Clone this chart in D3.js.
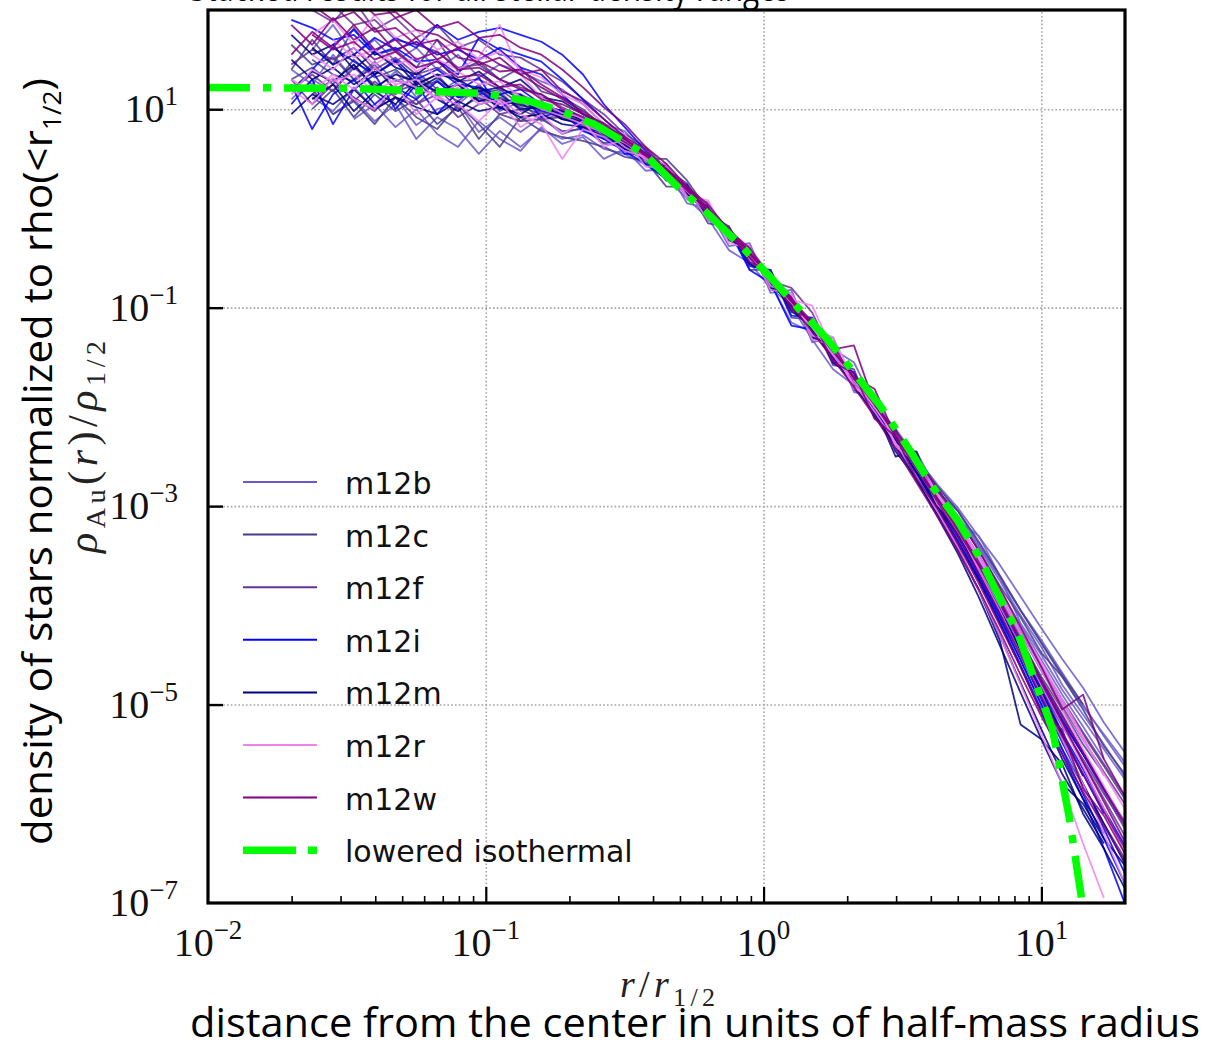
<!DOCTYPE html>
<html>
<head>
<meta charset="utf-8">
<script src="https://cdn.jsdelivr.net/npm/d3@7"></script>
<style>
  body { margin: 0; background: #fff; }
</style>
</head>
<body>
<div id="chart"></div>
<script>
// radial grid, log10(r / r_1/2)
const logR = [-1.700,-1.625,-1.550,-1.475,-1.400,-1.325,-1.250,-1.175,-1.100,-1.025,-0.950,-0.875,-0.800,-0.725,-0.650,-0.575,-0.500,-0.425,-0.350,-0.275,-0.200,-0.125,-0.050,0.025,0.100,0.175,0.250,0.325,0.400,0.475,0.550,0.625,0.700,0.775,0.850,0.925,1.000,1.075,1.150,1.225,1.300];

// log10(rho / rho_1/2), several profiles per halo
const m12b = [
  [null,1.12,0.98,1.22,1.00,1.12,0.84,1.00,1.06,0.77,0.92,0.77,0.92,0.75,0.82,0.65,0.63,0.52,0.30,0.21,-0.08,-0.22,-0.50,-0.67,-0.99,-1.15,-1.45,-1.66,-1.96,-2.22,-2.51,-2.78,-3.02,-3.31,-3.59,-3.91,-4.23,-4.54,-4.83,-5.18,-5.48],
  [1.10,1.30,1.18,1.45,1.20,1.38,1.12,1.30,1.05,1.22,0.98,1.08,0.88,0.97,0.80,0.74,0.60,0.54,0.33,0.18,-0.01,-0.28,-0.45,-0.75,-1.15,-1.25,-1.42,-1.55,-1.97,-2.27,-2.55,-2.83,-3.10,-3.42,-3.75,-4.10,-4.42,-4.80,-5.10,-5.40,-5.72],
  [null,null,0.95,1.10,0.88,1.05,0.70,0.92,0.80,0.55,0.78,0.62,0.80,0.70,0.74,0.60,0.55,0.44,0.30,0.10,-0.10,-0.42,-0.55,-0.80,-0.98,-1.32,-1.62,-1.78,-2.05,-2.35,-2.62,-2.90,-3.18,-3.50,-3.85,-4.20,-4.55,-4.90,-5.22,-5.55,null],
  [1.40,1.25,1.55,1.30,1.48,1.28,1.36,1.15,1.30,1.10,1.18,0.98,1.05,0.90,0.85,0.80,0.62,0.48,0.40,0.15,-0.02,-0.20,-0.50,-0.68,-1.02,-1.18,-1.50,-1.70,-2.05,-2.30,-2.60,-2.88,-3.15,-3.30,-3.70,-4.18,-4.50,-4.85,-5.15,-5.45,-5.75],
  [null,1.60,1.85,1.55,1.70,1.48,1.62,1.40,1.55,1.32,1.45,1.38,1.28,1.20,1.05,0.85,0.78,0.55,0.42,0.12,0.05,-0.32,-0.40,-0.80,-0.88,-1.30,-1.38,-1.82,-1.95,-2.40,-2.50,-2.80,-3.05,-3.38,-3.70,-4.05,-4.35,-4.68,-5.00,-5.32,-5.62],
  [null,null,null,0.90,1.05,0.82,1.00,0.75,0.62,0.88,0.70,0.58,0.82,0.65,0.72,0.50,0.60,0.38,0.40,0.05,0.00,-0.38,-0.35,-0.85,-0.82,-1.35,-1.30,-1.85,-1.90,-2.38,-2.45,-2.85,-3.05,-3.40,-3.72,-4.05,-4.38,-4.72,-5.02,-5.30,-5.58]
];
const m12c = [
  [1.65,1.45,1.52,1.30,1.42,1.20,1.33,1.15,1.25,1.08,1.12,1.02,0.95,0.98,0.82,0.78,0.64,0.50,0.36,0.20,-0.04,-0.24,-0.50,-0.70,-0.98,-1.20,-1.46,-1.76,-2.00,-2.34,-2.62,-2.90,-3.18,-3.52,-3.88,-4.25,-4.62,-4.98,-5.30,-5.62,-5.95],
  [null,1.00,1.20,0.92,1.15,0.98,1.10,0.85,1.02,0.70,0.95,0.88,0.90,0.78,0.80,0.66,0.68,0.45,0.38,0.12,0.02,-0.30,-0.42,-0.78,-0.90,-1.26,-1.40,-1.80,-1.95,-2.30,-2.58,-2.85,-3.12,-3.45,-3.80,-4.12,-4.48,-4.72,-5.05,-5.42,-5.70],
  [1.30,1.42,1.25,1.50,1.32,1.40,1.22,1.28,1.18,1.20,1.05,1.10,1.00,0.92,0.90,0.75,0.66,0.54,0.35,0.18,-0.05,-0.26,-0.47,-0.73,-0.97,-1.22,-1.48,-1.76,-2.06,-2.36,-2.68,-3.00,-3.32,-3.70,-4.12,-4.55,-5.00,-5.45,-5.82,-6.20,-6.55],
  [null,1.50,1.35,1.28,1.45,1.18,1.25,1.35,1.12,1.15,1.20,1.05,1.08,0.96,0.88,0.80,0.68,0.50,0.50,0.28,-0.02,-0.22,-0.49,-0.70,-0.95,-1.19,-1.45,-1.72,-1.98,-2.25,-2.52,-2.80,-3.05,-3.36,-3.70,-4.05,-4.38,-4.70,-5.00,null,null],
  [1.40,1.70,1.45,1.82,1.55,1.60,1.42,1.70,1.38,1.48,1.30,1.42,1.18,1.12,1.00,0.82,0.74,0.48,0.45,0.10,0.06,-0.32,-0.38,-0.82,-0.85,-1.30,-1.36,-1.80,-1.92,-2.36,-2.56,-2.92,-3.20,-3.55,-3.95,-4.32,-4.75,-5.10,-5.48,-5.85,-6.20],
  [null,1.20,0.95,1.08,0.85,1.12,0.92,0.80,1.05,0.85,0.62,0.92,0.78,0.72,0.68,0.62,0.52,0.48,0.22,0.22,-0.15,-0.18,-0.62,-0.62,-1.10,-1.12,-1.58,-1.62,-2.12,-2.22,-2.70,-2.90,-3.30,-3.62,-4.00,-4.35,-4.72,-5.05,-5.40,-5.70,null]
];
const m12f = [
  [null,null,2.05,1.85,1.90,1.70,1.65,1.58,1.42,1.45,1.30,1.22,1.15,1.02,0.92,0.80,0.68,0.52,0.37,0.18,-0.03,-0.25,-0.47,-0.72,-0.96,-1.20,-1.48,-1.75,-2.03,-2.33,-2.65,-2.98,-3.30,-3.66,-4.04,-4.45,-4.85,-5.22,-5.55,-5.90,-6.22],
  [1.20,1.35,1.18,1.42,1.25,1.15,1.38,1.20,1.08,1.25,1.02,1.10,0.96,1.00,0.84,0.70,0.63,0.55,0.34,0.14,-0.04,-0.27,-0.46,-0.74,-0.95,-1.23,-1.46,-1.73,-2.00,-2.30,-2.62,-2.92,-3.22,-3.55,-3.92,-4.28,-4.66,-5.02,-5.35,-5.68,-6.00],
  [1.45,1.60,1.50,1.62,1.40,1.52,1.35,1.42,1.28,1.30,1.20,1.15,1.05,0.95,0.88,0.79,0.64,0.53,0.38,0.15,-0.02,-0.24,-0.50,-0.71,-0.98,-1.20,-1.48,-1.70,-2.04,-2.35,-2.66,-2.97,-3.28,-3.63,-4.00,-4.40,-4.80,-5.18,-5.50,-5.85,-6.18],
  [null,1.15,1.30,1.08,1.28,1.12,1.05,1.22,1.00,1.12,0.95,1.00,0.90,0.92,0.86,0.72,0.62,0.50,0.34,0.18,-0.06,-0.26,-0.48,-0.73,-0.80,-1.05,-1.48,-1.75,-2.02,-2.30,-2.60,-2.90,-3.18,-3.50,-3.86,-4.22,-4.60,-4.95,-5.28,-5.60,-5.92],
  [null,2.00,1.88,2.10,1.80,1.92,1.72,1.85,1.62,1.70,1.55,1.52,1.40,1.28,1.10,0.95,0.75,0.62,0.40,0.25,-0.06,-0.18,-0.55,-0.66,-1.02,-1.15,-1.54,-1.66,-2.10,-2.25,-2.70,-2.90,-3.30,-3.62,-4.02,-4.42,-4.82,-5.20,-5.58,-5.95,-6.32],
  [1.30,1.05,1.25,1.12,0.98,1.20,1.05,1.15,0.92,1.05,1.10,0.88,1.00,0.90,0.92,0.70,0.70,0.48,0.42,0.12,0.04,-0.32,-0.42,-0.78,-0.90,-1.28,-1.40,-1.80,-1.98,-2.38,-2.58,-2.95,-3.25,-3.62,-3.98,-4.38,-4.78,-5.15,-5.50,-5.88,-6.25]
];
const m12i = [
  [1.90,1.82,1.70,1.75,1.55,1.62,1.48,1.50,1.35,1.72,1.60,1.42,1.35,1.15,0.95,0.82,0.66,0.50,0.36,0.17,-0.02,-0.24,-0.50,-0.74,-0.98,-1.22,-1.50,-1.78,-2.06,-2.38,-2.70,-3.02,-3.36,-3.74,-4.16,-4.60,-5.05,-5.50,-5.95,-6.45,-7.00],
  [1.25,0.80,1.15,1.30,1.05,1.22,1.10,1.28,1.12,1.18,1.05,1.12,0.98,0.96,0.78,0.70,0.58,0.45,0.30,0.20,-0.08,-0.22,-0.62,-0.75,-1.18,-1.22,-1.50,-1.74,-2.05,-2.34,-2.66,-2.96,-3.28,-3.64,-4.04,-4.45,-4.88,-5.30,-5.70,-6.10,null],
  [null,1.40,1.62,1.48,1.35,1.50,1.30,1.40,1.25,1.22,1.15,1.20,1.05,0.98,0.90,0.76,0.66,0.52,0.38,0.18,-0.03,-0.26,-0.48,-0.71,-0.95,-1.19,-1.45,-1.73,-2.00,-2.30,-2.62,-2.92,-3.24,-3.60,-3.98,-4.38,-4.78,-5.16,-5.50,-5.85,-6.20],
  [null,null,null,1.55,1.72,1.60,1.68,1.55,1.60,1.50,1.62,1.55,1.48,1.30,1.10,0.90,0.72,0.55,0.35,0.16,-0.05,-0.27,-0.49,-0.72,-0.97,-1.22,-1.46,-1.75,-2.03,-2.33,-2.64,-2.95,-3.26,-3.62,-4.00,-4.42,-4.85,-5.28,-5.65,-6.05,-6.42],
  [null,null,1.65,1.80,1.58,1.72,1.62,1.85,1.70,1.78,1.82,1.75,1.68,1.55,1.35,1.05,0.82,0.58,0.38,0.16,-0.04,-0.26,-0.50,-0.74,-0.98,-1.24,-1.50,-1.78,-2.06,-2.36,-2.68,-3.00,-3.35,-3.72,-4.12,-4.55,-5.00,-5.45,-5.90,-6.35,-6.80],
  [1.05,1.30,0.85,1.20,1.35,1.00,1.25,0.95,1.18,1.32,1.00,1.15,0.92,0.98,0.80,0.78,0.55,0.55,0.28,0.24,-0.12,-0.20,-0.58,-0.62,-1.08,-1.10,-1.56,-1.65,-2.10,-2.28,-2.68,-2.95,-3.30,-3.68,-4.08,-4.50,-4.95,-5.38,-5.80,-6.25,-6.70]
];
const m12m = [
  [1.50,1.30,1.42,1.25,1.38,1.30,1.20,1.32,1.15,1.22,1.10,1.04,1.00,0.94,0.86,0.78,0.66,0.52,0.35,0.16,-0.04,-0.26,-0.49,-0.73,-0.98,-1.24,-1.50,-1.78,-2.08,-2.40,-2.74,-3.08,-3.44,-3.85,-4.30,-4.78,-5.25,-5.70,-6.05,-6.40,null],
  [1.20,1.38,1.28,1.45,1.22,1.35,1.28,1.18,1.25,1.08,1.15,1.00,1.02,0.90,0.88,0.75,0.63,0.50,0.37,0.16,-0.05,-0.25,-0.50,-0.72,-0.97,-1.22,-1.49,-1.76,-2.04,-2.36,-2.70,-3.05,-3.42,-3.85,-4.35,-5.20,-5.35,-5.80,-6.00,-6.35,-6.62],
  [null,1.62,1.45,1.55,1.35,1.48,1.25,1.35,1.30,1.18,1.22,1.10,1.04,0.98,0.89,0.77,0.65,0.51,0.36,0.17,-0.03,-0.25,-0.47,-0.71,-0.96,-1.21,-1.46,-1.72,-2.01,-2.50,-2.45,-2.96,-3.30,-3.68,-4.08,-4.50,-4.92,-5.35,-5.80,-6.20,-6.60],
  [0.95,1.15,1.05,1.20,1.00,1.12,1.02,0.95,1.08,0.98,1.02,0.92,0.95,0.85,0.82,0.72,0.60,0.49,0.32,0.15,-0.05,-0.27,-0.50,-0.74,-0.99,-1.23,-1.50,-1.76,-2.05,-2.35,-2.66,-2.98,-3.30,-3.66,-4.05,-4.45,-4.88,-5.30,-5.72,null,null],
  [1.75,1.55,1.65,1.40,1.58,1.42,1.35,1.50,1.28,1.38,1.22,1.30,1.12,1.08,0.95,0.82,0.70,0.50,0.42,0.12,0.02,-0.30,-0.42,-0.80,-0.90,-1.30,-1.42,-1.82,-2.00,-2.45,-2.72,-3.10,-3.48,-3.92,-4.40,-4.88,-5.35,-5.60,-6.10,-6.45,-6.85],
  [null,1.10,1.25,0.98,1.18,1.05,1.28,1.10,0.98,1.15,1.02,0.95,1.08,0.90,0.85,0.78,0.60,0.54,0.30,0.20,-0.10,-0.22,-0.56,-0.66,-1.04,-1.16,-1.55,-1.70,-2.10,-2.32,-2.72,-3.00,-3.38,-3.75,-4.18,-4.62,-5.08,-5.55,-5.95,-6.30,null]
];
const m12r = [
  [null,1.55,1.40,1.62,1.45,1.58,1.38,1.50,1.40,1.52,1.85,1.35,1.12,1.00,0.90,0.78,0.62,0.50,0.38,0.18,-0.02,-0.25,-0.47,-0.70,-0.95,-1.20,-1.46,-1.72,-2.00,-2.28,-2.58,-2.88,-3.18,-3.50,-3.85,-4.22,-4.58,-4.95,-5.32,-5.72,null],
  [1.30,1.18,1.35,1.20,1.42,1.25,1.30,1.10,1.22,1.05,1.10,0.95,0.85,0.50,0.80,0.72,0.58,0.52,0.30,0.20,-0.12,-0.22,-0.52,-0.70,-0.92,-0.98,-1.44,-1.70,-2.00,-2.30,-2.62,-2.94,-3.26,-3.62,-4.00,-4.40,-4.80,-5.20,-5.62,-6.05,-6.50],
  [null,null,1.70,1.52,1.60,1.45,1.52,1.32,1.38,1.25,1.28,1.12,1.08,0.96,0.92,0.78,0.68,0.54,0.37,0.19,-0.01,-0.23,-0.46,-0.70,-0.95,-1.20,-1.48,-1.76,-2.05,-2.36,-2.70,-3.05,-3.42,-3.85,-4.30,-4.80,-5.30,-5.80,-6.40,-6.95,null],
  [1.15,1.40,1.28,1.35,1.18,1.30,1.22,1.12,1.26,1.14,1.05,1.10,1.00,0.93,0.85,0.76,0.66,0.53,0.36,0.17,-0.04,-0.25,-0.48,-0.72,-0.95,-1.20,-1.30,-1.73,-2.01,-2.30,-2.60,-2.90,-3.20,-3.53,-3.88,-4.24,-4.60,-4.98,-5.35,-5.70,-6.05],
  [null,1.75,1.90,1.65,1.95,1.72,1.80,1.60,1.68,1.50,1.58,1.40,1.32,1.15,1.05,0.85,0.75,0.48,0.45,0.12,0.08,-0.30,-0.38,-0.78,-0.86,-1.28,-1.35,-1.80,-1.92,-2.38,-2.50,-2.88,-3.15,-3.52,-3.90,-4.28,-4.65,-5.05,-5.45,-5.82,-6.20],
  [1.20,1.05,1.32,1.10,1.00,1.25,0.95,1.12,1.05,0.88,1.08,0.82,0.95,0.75,0.88,0.62,0.70,0.42,0.42,0.10,0.05,-0.35,-0.40,-0.82,-0.85,-1.32,-1.38,-1.82,-1.90,-2.40,-2.55,-2.98,-3.22,-3.65,-4.05,-4.50,-4.90,-5.35,-5.80,-6.30,-6.80]
];
const m12w = [
  [null,2.30,2.10,2.15,1.95,1.98,1.80,1.75,1.62,1.58,1.45,1.35,1.22,1.10,0.98,0.84,0.70,0.54,0.38,0.19,-0.02,-0.24,-0.46,-0.70,-0.94,-1.18,-1.44,-1.70,-1.98,-2.28,-2.60,-2.92,-3.25,-3.60,-3.98,-4.38,-4.78,-5.18,-5.58,-5.98,-6.38],
  [2.20,2.05,1.90,1.98,1.78,1.82,1.65,1.70,1.52,1.48,1.38,1.40,1.25,1.12,0.96,0.82,0.70,0.56,0.40,0.20,-0.01,-0.22,-0.45,-0.68,-0.93,-1.17,-1.43,-1.70,-1.82,-2.30,-2.62,-2.95,-3.30,-3.68,-4.08,-4.50,-4.92,-5.32,-5.70,-6.08,-6.45],
  [null,1.75,1.60,1.68,1.50,1.58,1.42,1.48,1.32,1.35,1.22,1.25,1.10,1.05,0.95,0.86,0.70,0.55,0.40,0.22,0.00,-0.20,-0.44,-0.66,-0.92,-1.14,-1.42,-1.38,-1.98,-2.24,-2.52,-2.82,-3.12,-3.45,-3.82,-4.22,-4.62,-5.05,-4.90,-5.55,-5.92],
  [1.55,1.78,1.62,1.85,1.60,1.70,1.50,1.58,1.40,1.42,1.30,1.20,1.15,1.00,0.92,0.80,0.67,0.53,0.37,0.18,-0.03,-0.26,-0.49,-0.74,-0.98,-1.24,-1.52,-1.80,-2.10,-2.42,-2.76,-3.10,-3.45,-3.84,-4.26,-4.70,-5.12,-5.50,-5.88,-6.22,-6.58],
  [null,null,2.25,2.05,2.12,1.92,2.00,1.82,1.88,1.72,1.75,1.62,1.55,1.40,1.22,1.02,0.85,0.62,0.45,0.22,0.04,-0.22,-0.40,-0.68,-0.90,-1.18,-1.38,-1.72,-1.94,-2.30,-2.58,-2.92,-3.22,-3.58,-3.95,-4.35,-4.75,-5.12,-5.48,-5.85,-6.20],
  [1.85,1.65,1.92,1.70,1.82,1.58,1.72,1.50,1.62,1.45,1.52,1.35,1.40,1.18,1.08,0.90,0.72,0.60,0.38,0.22,-0.06,-0.20,-0.54,-0.64,-1.02,-1.12,-1.55,-1.66,-2.12,-2.30,-2.72,-3.02,-3.38,-3.78,-4.20,-4.62,-5.08,-5.25,-5.85,-6.12,-6.50]
];

// lowered isothermal model curve (log10 r, log10 rho)
const isoLogR   = [-2.00,-1.49,-1.01,-0.84,-0.73,-0.61,-0.43,-0.31,-0.19,-0.08,0.02,0.13,0.23,0.33,0.42,0.52,0.61,0.70,0.78,0.85,0.91,1.04,1.10,1.145,1.155];
const isoLogRho = [1.22,1.21,1.16,1.08,0.98,0.85,0.55,0.22,-0.08,-0.38,-0.68,-1.02,-1.32,-1.67,-1.99,-2.41,-2.81,-3.15,-3.53,-3.93,-4.24,-5.25,-6.13,-6.96,-7.20];

const halos = ["m12b","m12c","m12f","m12i","m12m","m12r","m12w"];
const haloProfiles = [m12b, m12c, m12f, m12i, m12m, m12r, m12w];
const haloColors = ["slateblue","darkslateblue","rebeccapurple","blue","navy","violet","purple"];

const xMajor = [0.01, 0.1, 1, 10];
const xMajorExp = ["\u22122", "\u22121", "0", "1"];
const xMinor = [0.02,0.03,0.04,0.05,0.06,0.07,0.08,0.09,0.2,0.3,0.4,0.5,0.6,0.7,0.8,0.9,2,3,4,5,6,7,8,9];
const yMajor = [1e1, 1e-1, 1e-3, 1e-5, 1e-7];
const yMajorExp = ["1", "\u22121", "\u22123", "\u22125", "\u22127"];

const W = 1207, H = 1043;
const plot = {left: 208, right: 1125, top: 10, bottom: 903};

const svg = d3.select("#chart").append("svg")
    .attr("width", W)
    .attr("height", H);

const x = d3.scaleLog().domain([0.01, 20]).range([plot.left, plot.right]);
const y = d3.scaleLog().domain([1e-7, 100]).range([plot.bottom, plot.top]);

// dotted grid
const gridX = svg.append("g")
    .attr("transform", `translate(0,${plot.bottom})`)
    .call(d3.axisBottom(x).tickValues(xMajor.slice(1)).tickSize(-(plot.bottom - plot.top)).tickFormat(""));
gridX.select(".domain").remove();
gridX.selectAll("line")
    .attr("stroke", "#a4a4a4").attr("stroke-width", 1.6).attr("stroke-dasharray", "1.6,2.2");

const gridY = svg.append("g")
    .attr("transform", `translate(${plot.left},0)`)
    .call(d3.axisLeft(y).tickValues(yMajor.slice(0, 4)).tickSize(-(plot.right - plot.left)).tickFormat(""));
gridY.select(".domain").remove();
gridY.selectAll("line")
    .attr("stroke", "#a4a4a4").attr("stroke-width", 1.6).attr("stroke-dasharray", "1.6,2.2");

// clip for the data
svg.append("clipPath").attr("id", "plotClip")
    .append("rect")
    .attr("x", plot.left).attr("y", plot.top)
    .attr("width", plot.right - plot.left).attr("height", plot.bottom - plot.top);

const lineGen = d3.line()
    .defined(d => d[1] !== null)
    .x(d => x(Math.pow(10, d[0])))
    .y(d => y(Math.pow(10, d[1])));

const dataLayer = svg.append("g").attr("clip-path", "url(#plotClip)");

haloProfiles.forEach((profiles, hi) => {
    profiles.forEach(vals => {
        dataLayer.append("path")
            .datum(logR.map((lr, i) => [lr, vals[i]]))
            .attr("d", lineGen)
            .attr("fill", "none")
            .attr("stroke", haloColors[hi])
            .attr("stroke-width", 1.8)
            .attr("stroke-opacity", 0.85)
            .attr("stroke-linejoin", "round");
    });
});

// lowered isothermal
dataLayer.append("path")
    .datum(isoLogR.map((lr, i) => [lr, isoLogRho[i]]))
    .attr("d", lineGen)
    .attr("fill", "none")
    .attr("stroke", "#00ff00")
    .attr("stroke-width", 7.5)
    .attr("stroke-dasharray", "42,13,8,13");

// ticks (inward)
const xTicksMajor = svg.append("g")
    .attr("transform", `translate(0,${plot.bottom})`)
    .call(d3.axisBottom(x).tickValues(xMajor.slice(1)).tickSizeInner(-16).tickSizeOuter(0).tickFormat(""));
xTicksMajor.select(".domain").remove();
xTicksMajor.selectAll("line").attr("stroke", "#000").attr("stroke-width", 2.2);

const xTicksMinor = svg.append("g")
    .attr("transform", `translate(0,${plot.bottom})`)
    .call(d3.axisBottom(x).tickValues(xMinor).tickSizeInner(-7).tickSizeOuter(0).tickFormat(""));
xTicksMinor.select(".domain").remove();
xTicksMinor.selectAll("line").attr("stroke", "#000").attr("stroke-width", 1.6);

const yTicksMajor = svg.append("g")
    .attr("transform", `translate(${plot.left},0)`)
    .call(d3.axisLeft(y).tickValues(yMajor.slice(0, 4)).tickSizeInner(-15).tickSizeOuter(0).tickFormat(""));
yTicksMajor.select(".domain").remove();
yTicksMajor.selectAll("line").attr("stroke", "#000").attr("stroke-width", 2.4);

// frame
svg.append("rect")
    .attr("x", plot.left).attr("y", plot.top)
    .attr("width", plot.right - plot.left).attr("height", plot.bottom - plot.top)
    .attr("fill", "none").attr("stroke", "#000").attr("stroke-width", 3.2);

// tick labels
const serif = "'Liberation Serif', 'DejaVu Serif', serif";
xMajor.forEach((v, i) => {
    const t = svg.append("text")
        .attr("x", x(v)).attr("y", 956)
        .attr("text-anchor", "middle")
        .attr("font-family", serif).attr("font-size", 40).attr("fill", "#111");
    t.append("tspan").text("10");
    t.append("tspan").attr("dy", -17).attr("font-size", 27).text(xMajorExp[i]);
});
yMajor.forEach((v, i) => {
    const t = svg.append("text")
        .attr("x", 178).attr("y", y(v) + 13)
        .attr("text-anchor", "end")
        .attr("font-family", serif).attr("font-size", 40).attr("fill", "#111");
    t.append("tspan").text("10");
    t.append("tspan").attr("dy", -17).attr("font-size", 27).text(yMajorExp[i]);
});

// axis labels
const xl = svg.append("text")
    .attr("x", 620).attr("y", 997)
    .attr("font-family", serif).attr("font-size", 38).attr("fill", "#222")
    .attr("textLength", 95).attr("lengthAdjust", "spacing");
xl.append("tspan").attr("font-style", "italic").text("r");
xl.append("tspan").text("/");
xl.append("tspan").attr("font-style", "italic").text("r");
xl.append("tspan").attr("dy", 9).attr("font-size", 26).text("1/2");

const yl = svg.append("text")
    .attr("transform", "translate(97,553) rotate(-90)")
    .attr("font-family", serif).attr("font-size", 42).attr("fill", "#222")
    .attr("textLength", 212).attr("lengthAdjust", "spacing");
yl.append("tspan").attr("font-style", "italic").text("\u03c1");
yl.append("tspan").attr("dy", 8).attr("font-size", 28).text("Au");
yl.append("tspan").attr("dy", -8).text("(");
yl.append("tspan").attr("font-style", "italic").text("r");
yl.append("tspan").text(")/");
yl.append("tspan").attr("font-style", "italic").text("\u03c1");
yl.append("tspan").attr("dy", 8).attr("font-size", 28).text("1/2");

// legend
const legendY0 = 482, legendStep = 52.6;
const legend = svg.append("g");
halos.forEach((name, i) => {
    const ly = legendY0 + i * legendStep;
    legend.append("line")
        .attr("x1", 243).attr("x2", 317).attr("y1", ly).attr("y2", ly)
        .attr("stroke", haloColors[i]).attr("stroke-width", 2);
    legend.append("text")
        .attr("x", 345).attr("y", ly + 12)
        .attr("font-family", "'DejaVu Sans', sans-serif").attr("font-size", 30)
        .attr("fill", "#111")
        .text(name);
});
const isoY = legendY0 + halos.length * legendStep;
legend.append("line")
    .attr("x1", 243).attr("x2", 317).attr("y1", isoY).attr("y2", isoY)
    .attr("stroke", "#00ff00").attr("stroke-width", 7.5)
    .attr("stroke-dasharray", "53,12,9,30");
legend.append("text")
    .attr("x", 345).attr("y", isoY + 12)
    .attr("font-family", "'DejaVu Sans', sans-serif").attr("font-size", 30)
    .attr("fill", "#111")
    .text("lowered isothermal");

// slide annotations
const sans = "'Open Sans', 'Noto Sans', sans-serif";
svg.append("text")
    .attr("x", 190).attr("y", 1037)
    .attr("font-family", sans).attr("font-size", 40).attr("fill", "#000")
    .attr("textLength", 1010).attr("lengthAdjust", "spacingAndGlyphs")
    .text("distance from the center in units of half-mass radius");

const sideNote = svg.append("text")
    .attr("transform", "translate(52,845) rotate(-90)")
    .attr("font-family", sans).attr("font-size", 40).attr("fill", "#000")
    .attr("textLength", 767).attr("lengthAdjust", "spacingAndGlyphs");
sideNote.append("tspan").text("density of stars normalized to rho(<r");
sideNote.append("tspan").attr("dy", 9).attr("font-size", 25).text("1/2");
sideNote.append("tspan").attr("dy", -9).text(")");

svg.append("text")
    .attr("x", 190).attr("y", 1)
    .attr("font-family", sans).attr("font-size", 40).attr("fill", "#000")
    .attr("textLength", 600).attr("lengthAdjust", "spacingAndGlyphs")
    .text("Stacked results for all stellar density ranges");
</script>
</body>
</html>
